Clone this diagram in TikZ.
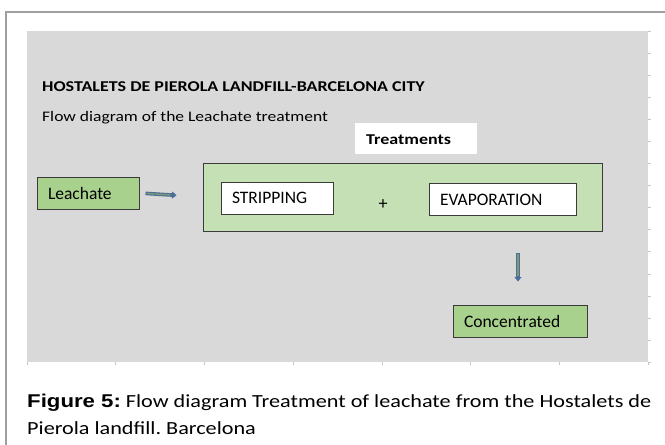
\documentclass[tikz,border=0pt]{standalone}
\usepackage{fontspec}
\setmainfont{Carlito}
\newfontfamily\widefont[FakeStretch=1.2]{Carlito}
\newfontfamily\capfont[FakeStretch=1.2]{Liberation Sans}
\usetikzlibrary{positioning,arrows.meta}
\frenchspacing

\definecolor{panelgray}{HTML}{D9D9D9}
\definecolor{leafgreen}{HTML}{A9D18E}
\definecolor{palegreen}{HTML}{C5E0B4}
\definecolor{edgegray}{HTML}{3B3B3B}
\definecolor{arrowblue}{HTML}{4A6F99}
\definecolor{arrowfill}{HTML}{7F9A70}

\tikzset{
  box/.style={draw=edgegray, line width=1pt, inner xsep=11pt, inner ysep=0pt,
    minimum height=32pt, text width=#1, align=left,
    font=\fontsize{17.5}{20}\selectfont},
  flowline/.style={line width=3.6pt, draw=arrowblue,
    -{Triangle[length=4.5pt,width=7pt]}},
  flowcore/.style={line width=1.3pt, draw=arrowfill}
}

\begin{document}
\begin{tikzpicture}[x=1pt,y=-1pt]
  \useasboundingbox (0,0) rectangle (665,445);
  \fill[white] (0,0) rectangle (665,445);

  % frame and panel
  \draw[gray!75, line width=1.5pt] (6,445) -- (6,12) -- (665,12);
  \fill[panelgray] (27,31) rectangle (648,362);
  \foreach \k in {0,...,15}
    \draw[gray!45, line width=0.5pt] (648,31+\k*22.07) -- (650.5,31+\k*22.07);
  \foreach \k in {0,...,7}
    \draw[gray!45, line width=0.5pt] (27+\k*88.7,362) -- (27+\k*88.7,364.5);

  % headings
  \node[anchor=base west, inner sep=0pt, font=\widefont\bfseries\fontsize{15}{18}\selectfont]
    (title) at (42,91) {HOSTALETS DE PIEROLA LANDFILL-BARCELONA CITY};
  \node[anchor=base west, inner sep=0pt, font=\widefont\fontsize{14.6}{18}\selectfont]
    (subtitle) at (42,121) {Flow diagram of the Leachate treatment};
  \node[fill=white, minimum width=122pt, minimum height=31pt, inner sep=0pt]
    (treatlabel) at (416,138.5) {};
  \node[anchor=base west, inner sep=0pt, font=\widefont\bfseries\fontsize{15}{18}\selectfont]
    (treattext) at (366,144) {Treatments};

  % boxes
  \node[box=80pt, fill=leafgreen] (leach) at (88,193) {Leachate};
  \node[draw=edgegray, line width=1pt, fill=palegreen, minimum width=399pt,
    minimum height=68pt, inner sep=0pt] (treat) at (402.5,197) {};
  \node[box=90pt, fill=white] (strip) at (277,198) {STRIPPING};
  \node[box=125pt, fill=white] (evap) at (502.5,199.5) {EVAPORATION};
  \node[font=\fontsize{18}{20}\selectfont, inner sep=0pt] (plus) at (383,205) {+};
  \node[box=112pt, fill=leafgreen] (conc) at (520,321) {Concentrated};

  % arrows
  \draw[flowline, shorten <=6pt, shorten >=26pt] (leach.east) -- (treat.west);
  \draw[flowcore, shorten <=7pt, shorten >=32pt] (leach.east) -- (treat.west);
  \draw[flowline, shorten <=21pt, shorten >=23pt] ([xshift=-2pt]conc.north |- treat.south) -- ([xshift=-2pt]conc.north);
  \draw[flowcore, shorten <=22pt, shorten >=29pt] ([xshift=-2pt]conc.north |- treat.south) -- ([xshift=-2pt]conc.north);

  % caption
  \node[anchor=base west, inner sep=0pt, font=\widefont\fontsize{18.5}{27}\selectfont, align=left]
    (caption) at (27,434) {{\capfont\bfseries Figure 5:} Flow diagram Treatment of leachate from the Hostalets de\\Pierola landfill. Barcelona};
\end{tikzpicture}
\end{document}
